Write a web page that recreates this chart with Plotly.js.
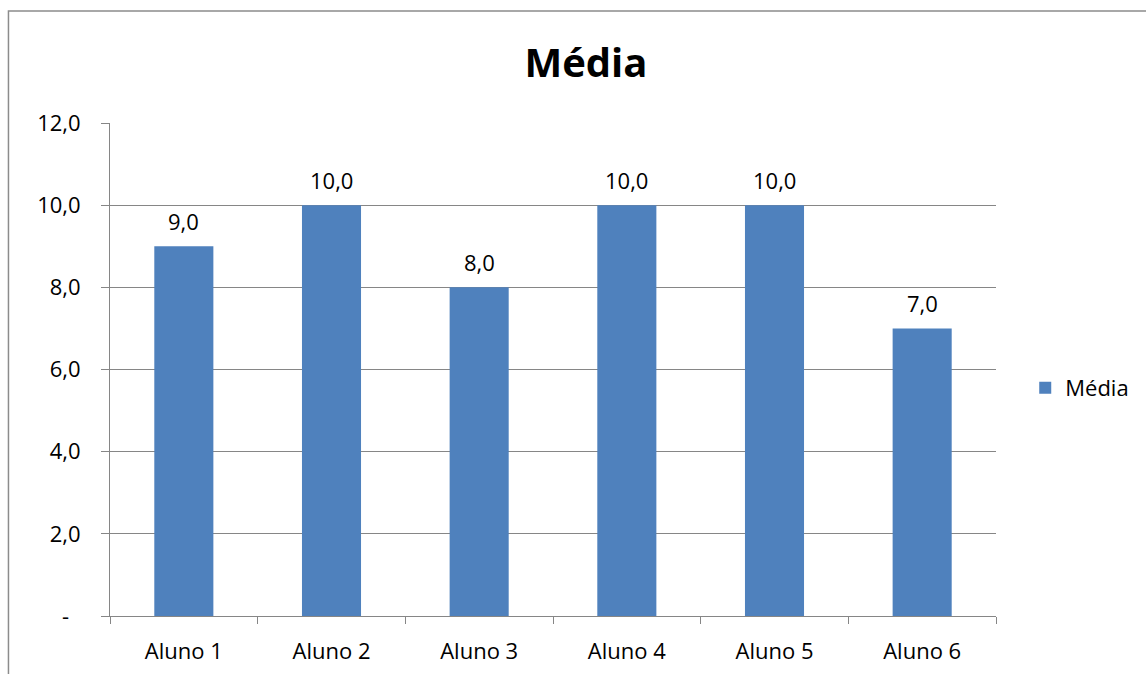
<!DOCTYPE html>
<html>
<head>
<meta charset="utf-8">
<script src="https://cdn.plot.ly/plotly-3.0.1.min.js"></script>
<style>html,body{margin:0;padding:0;background:#fff;}#chart{width:1146px;height:674px;}</style>
</head>
<body>
<div id="chart"></div>
<script>
const categories = ["Aluno 1", "Aluno 2", "Aluno 3", "Aluno 4", "Aluno 5", "Aluno 6"];
const media = [9.0, 10.0, 8.0, 10.0, 10.0, 7.0];
const seriesName = "Média";
const yTickVals = [0, 2, 4, 6, 8, 10, 12];

function fmt(v) { return v.toFixed(1).replace('.', ','); }
const yTickText = yTickVals.map(v => v === 0 ? '-\u00a0\u00a0' : fmt(v));

const font = "Open Sans, sans-serif";
const gray = "#868686";

const trace = {
  type: 'bar',
  x: categories,
  y: media,
  name: seriesName,
  marker: {color: '#4F81BD'},
  showlegend: true,
  hoverinfo: 'x+y'
};

const annotations = categories.map((c, i) => ({
  x: c, y: media[i], xref: 'x', yref: 'y',
  text: fmt(media[i]), showarrow: false,
  yanchor: 'middle', yshift: 25,
  font: {family: font, size: 22, color: '#000'}
}));

const layout = {
  width: 1146, height: 674,
  margin: {l: 110, r: 146, t: 123, b: 58, pad: 0},
  paper_bgcolor: '#fff', plot_bgcolor: '#fff',
  font: {family: font, size: 22, color: '#000'},
  title: {
    text: '<b>Média</b>',
    font: {family: font, size: 40, color: '#000'},
    xref: 'container', x: 0.5113, xanchor: 'center',
    yref: 'container', y: 0.907, yanchor: 'middle'
  },
  bargap: 0.6,
  xaxis: {
    type: 'category',
    showline: true, linecolor: gray, linewidth: 1,
    ticks: 'outside', tickson: 'boundaries', ticklen: 7, tickcolor: gray, tickwidth: 1,
    showgrid: false, zeroline: false,
    tickfont: {family: font, size: 22, color: '#000'},
    ticklabelstandoff: 16
  },
  yaxis: {
    range: [0, 12],
    tickvals: yTickVals, ticktext: yTickText,
    showline: true, linecolor: gray, linewidth: 1,
    ticks: 'outside', ticklen: 8, tickcolor: gray, tickwidth: 1,
    showgrid: true, gridcolor: gray, gridwidth: 1,
    zeroline: false,
    tickfont: {family: font, size: 22, color: '#000'},
    ticklabelstandoff: 16
  },
  legend: {
    x: 1.033, xanchor: 'left', y: 0.4625, yanchor: 'middle',
    font: {family: font, size: 22, color: '#000'},
    bgcolor: 'rgba(0,0,0,0)', borderwidth: 0
  },
  annotations: annotations,
  shapes: [{
    type: 'rect', xref: 'paper', yref: 'paper',
    x0: -0.1146, x1: 1.2, y0: -0.2, y1: 1.2272,
    line: {color: '#8c8c8c', width: 1.5}, fillcolor: 'rgba(0,0,0,0)', layer: 'below'
  }]
};

Plotly.newPlot('chart', [trace], layout, {displayModeBar: false, staticPlot: true});
</script>
</body>
</html>
